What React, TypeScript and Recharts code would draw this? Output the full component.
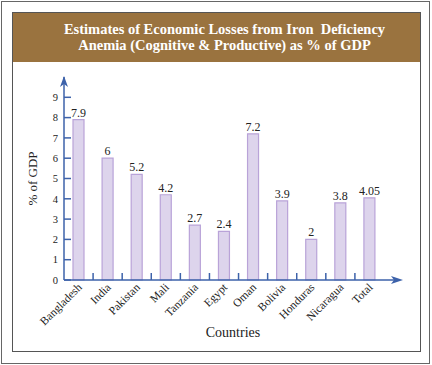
import { Bar, BarChart, LabelList, XAxis, YAxis } from "recharts";

const countries = [
  "Bangladesh",
  "India",
  "Pakistan",
  "Mali",
  "Tanzania",
  "Egypt",
  "Oman",
  "Bolivia",
  "Honduras",
  "Nicaragua",
  "Total",
];
const losses = [7.9, 6, 5.2, 4.2, 2.7, 2.4, 7.2, 3.9, 2, 3.8, 4.05];
const yTicks = [0, 1, 2, 3, 4, 5, 6, 7, 8, 9];

const data = countries.map((country, i) => ({ country, value: losses[i] }));

const AXIS = "#3d62aa";
const SERIF = "'Liberation Serif', 'Times New Roman', serif";

const W = 432;
const H = 365;
const margin = { top: 77, right: 48, bottom: 15, left: 20 };
const yAxisWidth = 44;
const plotLeft = margin.left + yAxisWidth;
const plotWidth = W - margin.right - plotLeft;
const band = plotWidth / countries.length;

function CountryTick(props: any) {
  const { x, y, payload, index } = props;
  const tx = x + 4;
  const ty = y + 8;
  return (
    <g>
      {index < countries.length - 1 && (
        <line x1={x + band / 2} x2={x + band / 2} y1={y} y2={y - 7} stroke={AXIS} strokeWidth={1.5} />
      )}
      <text
        x={tx}
        y={ty}
        textAnchor="end"
        fontSize={11.5}
        fontFamily={SERIF}
        fill="#222"
        transform={`rotate(-45, ${tx}, ${ty})`}
      >
        {payload.value}
      </text>
    </g>
  );
}

export default function App() {
  const axisY = H - margin.bottom - 70;
  return (
    <div style={{ position: "absolute", left: 0, top: 0, width: W, height: H, background: "#fff" }}>
      <div
        style={{
          position: "absolute",
          left: 1,
          top: 1,
          width: 427,
          height: 361,
          border: "1.5px solid #666",
        }}
      />
      <div
        style={{
          position: "absolute",
          left: 12,
          top: 12,
          width: 407,
          height: 338,
          border: "1.5px solid #555",
        }}
      />
      <div
        style={{
          position: "absolute",
          left: 13,
          top: 13,
          width: 407,
          height: 49,
          background: "#9a733f",
          color: "#fff",
          fontFamily: SERIF,
          fontWeight: "bold",
          fontSize: 14.5,
          lineHeight: "16px",
          textAlign: "center",
          paddingTop: 8,
          boxSizing: "border-box",
          paddingLeft: 16,
        }}
      >
        Estimates of Economic Losses from Iron&nbsp; Deficiency
        <br />
        Anemia (Cognitive &amp; Productive) as % of GDP
      </div>
      <div style={{ position: "absolute", left: 0, top: 0 }}>
        <BarChart width={W} height={H} data={data} margin={margin}>
          <YAxis
            width={yAxisWidth}
            domain={[0, 9.8]}
            ticks={yTicks}
            interval={0}
            allowDecimals={false}
            stroke={AXIS}
            strokeWidth={1.5}
            tickSize={-7}
            tickMargin={13}
            tick={{ fill: "#222", fontSize: 10.5, fontFamily: SERIF }}
            label={{
              value: "% of GDP",
              angle: -90,
              position: "insideLeft",
              offset: 12,
              style: { textAnchor: "middle", fill: "#222", fontSize: 13, fontFamily: SERIF },
            }}
          />
          <XAxis
            dataKey="country"
            height={70}
            interval={0}
            stroke={AXIS}
            strokeWidth={1.5}
            tickLine={false}
            tickSize={0}
            tickMargin={0}
            tick={<CountryTick />}
            label={{
              value: "Countries",
              position: "insideBottom",
              offset: 13,
              dx: 9,
              style: { fill: "#222", fontSize: 14, fontFamily: SERIF },
            }}
          />
          <Bar dataKey="value" barSize={11} fill="#ddd4ec" stroke="#b9a3d8" strokeWidth={1.2} isAnimationActive={false}>
            <LabelList
              dataKey="value"
              position="top"
              offset={3}
              style={{ fill: "#222", fontSize: 12, fontFamily: SERIF }}
            />
          </Bar>
        </BarChart>
      </div>
      <svg
        width={W}
        height={H}
        style={{ position: "absolute", left: 0, top: 0, pointerEvents: "none" }}
      >
        <line x1={plotLeft + plotWidth} x2={396} y1={axisY} y2={axisY} stroke={AXIS} strokeWidth={1.5} />
        <polygon
          points={`403,${axisY} 391,${axisY - 4} 394,${axisY} 391,${axisY + 4}`}
          fill={AXIS}
        />
        <polygon
          points={`${plotLeft},${margin.top - 1} ${plotLeft - 4},${margin.top + 10} ${plotLeft},${margin.top + 7} ${plotLeft + 4},${margin.top + 10}`}
          fill={AXIS}
        />
      </svg>
    </div>
  );
}
